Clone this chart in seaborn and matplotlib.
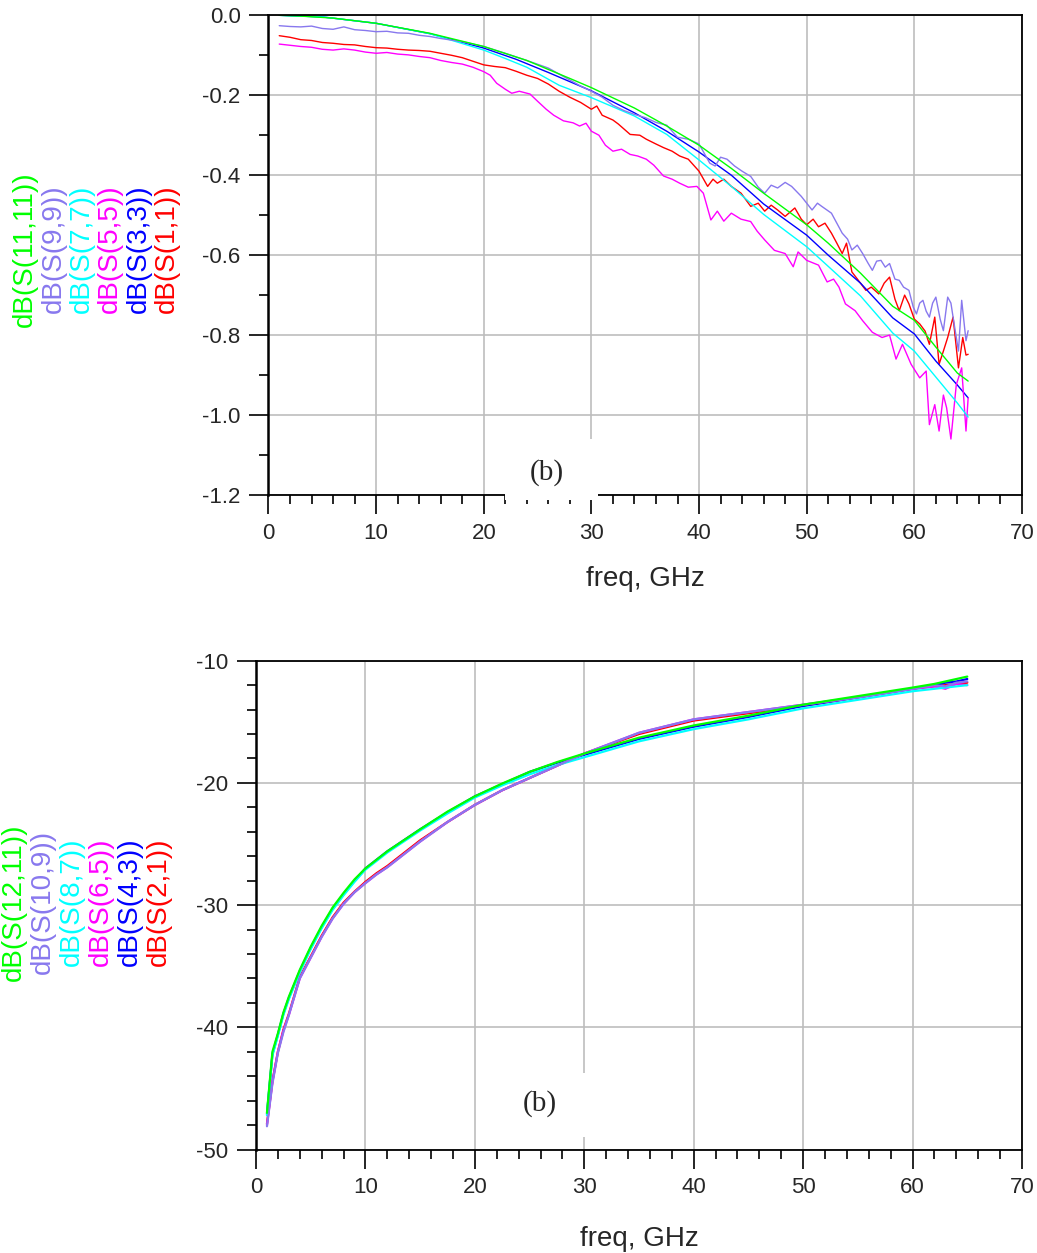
import pandas as pd
import seaborn as sns
import matplotlib.pyplot as plt
from matplotlib.ticker import MultipleLocator
from matplotlib.patches import Rectangle

# ---- top panel: reflection, dB(S(n,n)) ----
f_s11_11 = [1, 3, 6, 10, 15, 20, 24, 28, 30, 34, 37, 40, 43, 46, 50, 52, 55, 58, 60, 62, 64, 65]
s11_11 = [0.0, -0.002, -0.007, -0.02, -0.045, -0.078, -0.113, -0.158, -0.181, -0.232, -0.277, -0.325,
          -0.383, -0.445, -0.524, -0.57, -0.645, -0.728, -0.763, -0.83, -0.895, -0.915]

f_s3_3 = [1, 5, 10, 15, 20, 23, 26, 30, 34, 37, 40, 43, 46, 50, 52, 55, 58, 60, 62, 64, 65]
s3_3 = [0.0, -0.004, -0.02, -0.046, -0.082, -0.11, -0.143, -0.189, -0.244, -0.29, -0.342, -0.4,
        -0.472, -0.55, -0.6, -0.67, -0.757, -0.797, -0.865, -0.925, -0.957]

f_s7_7 = [1, 5, 10, 15, 20, 22, 24, 27, 30, 34, 37, 40, 43, 46, 50, 52, 55, 58, 60, 62, 64, 65]
s7_7 = [0.0, -0.004, -0.02, -0.046, -0.087, -0.108, -0.13, -0.175, -0.206, -0.252, -0.298, -0.362,
        -0.428, -0.498, -0.579, -0.628, -0.702, -0.795, -0.84, -0.905, -0.97, -1.005]

f_s9_9 = [1, 2, 3, 4, 5, 6, 7, 8, 9, 10, 11, 12, 13, 14, 15, 16, 17, 18, 19, 20, 22, 24, 26, 28, 29,
          30, 31, 32, 33, 34, 35, 36, 37, 38, 39, 40, 41, 41.5, 42, 42.6, 43.3, 44, 44.8, 45.5, 46.1,
          46.7, 47.3, 48, 48.6, 49.5, 50, 50.5, 51, 51.4, 52.3, 52.8, 53.3, 53.8, 54.2, 54.7, 55.2,
          55.7, 56.1, 56.5, 56.9, 57.3, 57.7, 58.2, 58.6, 59, 59.5, 59.9, 60.2, 60.5, 60.8, 61.1,
          61.4, 61.7, 62, 62.4, 62.7, 63.1, 63.4, 63.6, 64.1, 64.4, 64.8, 65]
s9_9 = [-0.026, -0.028, -0.029, -0.027, -0.033, -0.035, -0.029, -0.036, -0.038, -0.041, -0.04, -0.044,
        -0.045, -0.05, -0.053, -0.058, -0.062, -0.066, -0.072, -0.078, -0.095, -0.113, -0.132, -0.162,
        -0.177, -0.19, -0.205, -0.225, -0.238, -0.248, -0.256, -0.268, -0.275, -0.305, -0.31, -0.322,
        -0.37, -0.377, -0.355, -0.36, -0.377, -0.39, -0.403, -0.43, -0.445, -0.425, -0.432, -0.418,
        -0.428, -0.453, -0.47, -0.487, -0.47, -0.478, -0.495, -0.52, -0.545, -0.56, -0.587, -0.575,
        -0.596, -0.62, -0.638, -0.615, -0.613, -0.63, -0.621, -0.66, -0.663, -0.68, -0.688, -0.73,
        -0.747, -0.72, -0.713, -0.74, -0.755, -0.72, -0.705, -0.76, -0.789, -0.705, -0.72, -0.755,
        -0.84, -0.713, -0.814, -0.789]

f_s1_1 = [1, 2, 3, 4, 5, 6, 7, 8, 9, 10, 11, 12, 13, 14, 15, 16, 17, 18, 19, 20, 21, 22, 23, 24, 25,
          26, 27, 28, 29, 30, 30.5, 31, 32, 32.5, 33.6, 34.5, 35.1, 36, 36.7, 37.5, 38.2, 39, 40,
          40.8, 41.3, 41.7, 42.3, 43, 43.9, 44.8, 45.5, 46.1, 46.7, 47.3, 48, 48.9, 49.5, 50, 50.6,
          51.1, 51.7, 52.3, 52.8, 53.3, 53.7, 54.2, 54.8, 55.5, 56, 56.7, 57.2, 57.7, 58.2, 58.6,
          59.1, 59.5, 60, 60.5, 61, 61.4, 61.9, 62.3, 62.7, 63.1, 63.6, 64.1, 64.5, 64.8, 65]
s1_1 = [-0.051, -0.055, -0.061, -0.063, -0.068, -0.07, -0.073, -0.074, -0.078, -0.081, -0.082, -0.085,
        -0.087, -0.088, -0.09, -0.095, -0.1, -0.106, -0.115, -0.124, -0.128, -0.131, -0.14, -0.15,
        -0.158, -0.172, -0.19, -0.205, -0.218, -0.235, -0.227, -0.25, -0.262, -0.272, -0.298, -0.3,
        -0.31, -0.322, -0.331, -0.34, -0.352, -0.36, -0.39, -0.428, -0.41, -0.42, -0.41, -0.428,
        -0.445, -0.478, -0.47, -0.49, -0.475, -0.487, -0.503, -0.482, -0.51, -0.524, -0.51, -0.529,
        -0.52, -0.545, -0.57, -0.596, -0.57, -0.642, -0.663, -0.688, -0.68, -0.697, -0.67, -0.655,
        -0.71, -0.739, -0.7, -0.722, -0.76, -0.772, -0.79, -0.823, -0.755, -0.873, -0.84, -0.806,
        -0.755, -0.882, -0.806, -0.85, -0.848]

f_s5_5 = [1, 2, 3, 4, 5, 6, 7, 8, 9, 10, 11, 12, 13, 14, 15, 16, 17, 18, 19, 20, 20.6, 21.2, 22,
          22.6, 23.3, 24.3, 25, 25.8, 26.5, 27.4, 28.3, 28.9, 29.5, 30, 30.7, 31.3, 32, 32.8, 33.6,
          34.3, 35.1, 35.8, 36.7, 37.5, 38.2, 39, 39.8, 40.4, 41.1, 41.7, 42.3, 43, 43.9, 44.8, 45.4,
          46.1, 47, 48, 48.75, 49.2, 50, 51.1, 51.9, 52.5, 53, 53.6, 54.5, 55.2, 56.1, 57, 57.7, 58.3,
          58.9, 59.7, 60.5, 61.1, 61.4, 61.9, 62.3, 62.7, 63, 63.4, 63.9, 64.4, 64.8, 65]
s5_5 = [-0.072, -0.075, -0.078, -0.08, -0.085, -0.087, -0.084, -0.087, -0.092, -0.095, -0.093, -0.097,
        -0.099, -0.103, -0.106, -0.113, -0.118, -0.122, -0.13, -0.141, -0.15, -0.17, -0.185, -0.195,
        -0.19, -0.197, -0.215, -0.235, -0.25, -0.264, -0.269, -0.277, -0.27, -0.29, -0.3, -0.325,
        -0.34, -0.335, -0.348, -0.352, -0.36, -0.375, -0.402, -0.41, -0.42, -0.43, -0.428, -0.445,
        -0.512, -0.49, -0.515, -0.495, -0.51, -0.516, -0.54, -0.562, -0.588, -0.596, -0.629, -0.592,
        -0.613, -0.625, -0.667, -0.66, -0.68, -0.722, -0.739, -0.764, -0.793, -0.806, -0.8, -0.86,
        -0.823, -0.873, -0.907, -0.89, -1.024, -0.974, -1.04, -0.95, -0.982, -1.06, -0.924, -0.882,
        -1.04, -0.957]

# ---- bottom panel: transmission, dB(S(n+1,n)) ----
f_tx = [1, 1.5, 2, 2.5, 3, 4, 5, 6, 7, 8, 9, 10, 11, 12, 13, 15, 17.5, 20, 22.5, 25, 27.5, 30,
        35, 40, 45, 50, 55, 60, 62, 63, 64, 65]
s12_11 = [-47.0, -42.0, -40.5, -38.8, -37.5, -35.3, -33.4, -31.7, -30.2, -29.0, -27.9, -27.0, -26.3,
          -25.6, -25.0, -23.8, -22.35, -21.1, -20.05, -19.1, -18.3, -17.6, -16.3, -15.3, -14.5, -13.6,
          -12.9, -12.2, -11.9, -11.7, -11.5, -11.3]
s4_3 = [-47.1, -42.2, -40.6, -38.9, -37.6, -35.4, -33.5, -31.8, -30.3, -29.1, -28.0, -27.0, -26.3,
        -25.6, -25.0, -23.8, -22.4, -21.1, -20.1, -19.1, -18.35, -17.7, -16.4, -15.4, -14.6, -13.7,
        -13.0, -12.3, -12.0, -11.8, -11.7, -11.5]
s8_7 = [-47.2, -42.3, -40.7, -39.0, -37.7, -35.5, -33.6, -31.9, -30.4, -29.2, -28.1, -27.1, -26.4,
        -25.7, -25.1, -23.9, -22.5, -21.2, -20.2, -19.3, -18.55, -17.9, -16.6, -15.6, -14.8, -13.9,
        -13.2, -12.5, -12.3, -12.2, -12.1, -12.0]
s6_5 = [-48.0, -44.5, -42.0, -40.3, -39.0, -36.0, -34.3, -32.6, -31.1, -29.9, -28.95, -28.2, -27.5,
        -26.9, -26.2, -24.8, -23.2, -21.8, -20.6, -19.6, -18.6, -17.6, -15.9, -14.8, -14.2, -13.6,
        -13.0, -12.3, -12.1, -12.3, -11.9, -12.0]
s10_9 = [-48.1, -44.6, -42.1, -40.4, -39.0, -36.0, -34.3, -32.6, -31.1, -29.9, -28.95, -28.2, -27.5,
         -26.9, -26.2, -24.8, -23.2, -21.8, -20.6, -19.6, -18.6, -17.6, -15.9, -14.8, -14.2, -13.6,
         -13.0, -12.3, -12.0, -12.1, -11.8, -11.7]
s2_1 = [-47.9, -44.4, -42.0, -40.2, -38.9, -35.9, -34.2, -32.5, -31.0, -29.8, -28.9, -28.1, -27.4,
        -26.8, -26.1, -24.7, -23.2, -21.8, -20.6, -19.6, -18.6, -17.6, -16.0, -14.9, -14.3, -13.7,
        -13.0, -12.3, -12.1, -12.0, -11.9, -11.8]

colors = {'red': '#ff0000', 'blue': '#0000ff', 'magenta': '#ff00ff',
          'cyan': '#00ffff', 'lavender': '#8878ee', 'green': '#00ff00'}

top = pd.concat([
    pd.DataFrame({'freq': f_s1_1, 'dB': s1_1, 'trace': 'dB(S(1,1))'}),
    pd.DataFrame({'freq': f_s3_3, 'dB': s3_3, 'trace': 'dB(S(3,3))'}),
    pd.DataFrame({'freq': f_s5_5, 'dB': s5_5, 'trace': 'dB(S(5,5))'}),
    pd.DataFrame({'freq': f_s7_7, 'dB': s7_7, 'trace': 'dB(S(7,7))'}),
    pd.DataFrame({'freq': f_s9_9, 'dB': s9_9, 'trace': 'dB(S(9,9))'}),
    pd.DataFrame({'freq': f_s11_11, 'dB': s11_11, 'trace': 'dB(S(11,11))'}),
])
bot = pd.concat([
    pd.DataFrame({'freq': f_tx, 'dB': s2_1, 'trace': 'dB(S(2,1))'}),
    pd.DataFrame({'freq': f_tx, 'dB': s4_3, 'trace': 'dB(S(4,3))'}),
    pd.DataFrame({'freq': f_tx, 'dB': s6_5, 'trace': 'dB(S(6,5))'}),
    pd.DataFrame({'freq': f_tx, 'dB': s8_7, 'trace': 'dB(S(8,7))'}),
    pd.DataFrame({'freq': f_tx, 'dB': s10_9, 'trace': 'dB(S(10,9))'}),
    pd.DataFrame({'freq': f_tx, 'dB': s12_11, 'trace': 'dB(S(12,11))'}),
])
col_order = ['red', 'blue', 'magenta', 'cyan', 'lavender', 'green']

sns.set_style("whitegrid")
plt.rcParams['font.family'] = ['Liberation Sans', 'DejaVu Sans']

fig = plt.figure(figsize=(10.37, 12.53), dpi=100)
ax1 = fig.add_axes([0.2589, 0.60495, 0.7266, 0.38284])
ax2 = fig.add_axes([0.24687, 0.08260, 0.73867, 0.39011])


def style(ax, df, ylim, ymaj, ymin, rect, lw, labelpad):
    order = list(dict.fromkeys(df['trace']))
    pal = {t: colors[c] for t, c in zip(order, col_order)}
    sns.lineplot(data=df, x='freq', y='dB', hue='trace', hue_order=order, palette=pal,
                 estimator=None, sort=False, lw=lw, legend=False, ax=ax)
    ax.set_xlim(0, 70)
    ax.set_ylim(*ylim)
    ax.xaxis.set_major_locator(MultipleLocator(10))
    ax.xaxis.set_minor_locator(MultipleLocator(2))
    ax.yaxis.set_major_locator(MultipleLocator(ymaj))
    ax.yaxis.set_minor_locator(MultipleLocator(ymin))
    ax.grid(True, which='major', color='#bdbdbd', lw=1.2)
    ax.grid(False, which='minor')
    ax.tick_params(which='major', direction='out', length=14, width=1.2, color='black',
                   labelsize=16, pad=6, bottom=True, left=True)
    ax.tick_params(which='minor', direction='out', length=6.5, width=1.2, color='black',
                   bottom=True, left=True)
    for s in ax.spines.values():
        s.set_color('black')
        s.set_linewidth(1.3)
    ax.spines['left'].set_linewidth(1.8)
    ax.set_xlabel('freq, GHz', fontsize=20, labelpad=labelpad)
    ax.set_ylabel('')
    # white patch behind the "(b)" tag, as in the original export
    ax.add_patch(Rectangle((rect[0], rect[1]), rect[2], rect[3], facecolor='white',
                           edgecolor='none', zorder=3, clip_on=False))


style(ax1, top, (-1.2, 0.0), 0.2, 0.1, (22.0, -1.212, 8.6, 0.153), 1.0, 16)
ax1.yaxis.set_major_formatter(plt.FuncFormatter(lambda v, p: f'{v:.1f}'))
style(ax2, bot, (-50, -10), 10, 2, (21.4, -49.0, 9.3, 5.3), 1.6, 20)
ax2.yaxis.set_major_formatter(plt.FuncFormatter(lambda v, p: f'{v:.0f}'))

ax1.text(25.85, -1.145, '(b)', fontsize=21, family='Liberation Serif', ha='center', va='center', zorder=4)
ax2.text(25.9, -46.25, '(b)', fontsize=21, family='Liberation Serif', ha='center', va='center', zorder=4)

# stacked, coloured y labels
top_labels = ['dB(S(11,11))', 'dB(S(9,9))', 'dB(S(7,7))', 'dB(S(5,5))', 'dB(S(3,3))', 'dB(S(1,1))']
bot_labels = ['dB(S(12,11))', 'dB(S(10,9))', 'dB(S(8,7))', 'dB(S(6,5))', 'dB(S(4,3))', 'dB(S(2,1))']
lab_cols = ['green', 'lavender', 'cyan', 'magenta', 'blue', 'red']
for i, (t, c) in enumerate(zip(top_labels, lab_cols)):
    fig.text((25 + i * 28.4) / 1037, 1 - 249 / 1253, t, color=colors[c], fontsize=20,
             rotation=90, ha='center', va='center')
for i, (t, c) in enumerate(zip(bot_labels, lab_cols)):
    fig.text((14 + i * 29.0) / 1037, 1 - 902 / 1253, t, color=colors[c], fontsize=20,
             rotation=90, ha='center', va='center')

fig.savefig('out.png', dpi=100, facecolor='white')
